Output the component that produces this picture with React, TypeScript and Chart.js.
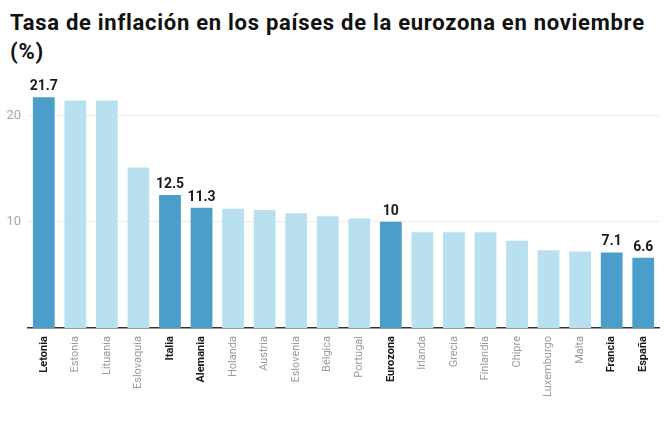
import React, { useEffect, useRef } from "react";
import { Chart, registerables } from "chart.js";

Chart.register(...registerables);

const categories = [
  "Letonia", "Estonia", "Lituania", "Eslovaquia", "Italia", "Alemania", "Holanda",
  "Austria", "Eslovenia", "Bélgica", "Portugal", "Eurozona", "Irlanda", "Grecia",
  "Finlandia", "Chipre", "Luxemburgo", "Malta", "Francia", "España",
];
const inflation = [
  21.7, 21.4, 21.4, 15.1, 12.5, 11.3, 11.2, 11.1, 10.8, 10.5, 10.3, 10.0, 9.0, 9.0,
  9.0, 8.2, 7.3, 7.2, 7.1, 6.6,
];
const highlighted = ["Letonia", "Italia", "Alemania", "Eurozona", "Francia", "España"];
const yTicks = [10, 20];

const DARK = "#4a9ec9";
const LIGHT = "#b8e0ee";

export default function App() {
  const ref = useRef<HTMLCanvasElement | null>(null);

  useEffect(() => {
    if (!ref.current) return;
    const isHi = (i: number) => highlighted.includes(categories[i]);

    const labelPlugin = {
      id: "valueLabels",
      afterDatasetsDraw(chart: any) {
        const ctx = chart.ctx;
        const meta = chart.getDatasetMeta(0);
        ctx.save();
        ctx.font = "bold 14px Roboto";
        ctx.fillStyle = "#1a1a1a";
        ctx.textAlign = "center";
        ctx.textBaseline = "alphabetic";
        meta.data.forEach((bar: any, i: number) => {
          if (!isHi(i)) return;
          const v = inflation[i];
          const txt = Number.isInteger(v) ? String(v) : v.toFixed(1);
          ctx.fillText(txt, bar.x, bar.y - 7);
        });
        ctx.restore();
      },
    };

    const chart = new Chart(ref.current, {
      type: "bar",
      data: {
        labels: categories,
        datasets: [
          {
            data: inflation,
            backgroundColor: categories.map((_, i) => (isHi(i) ? DARK : LIGHT)),
            borderWidth: 0,
            categoryPercentage: 1,
            barPercentage: 0.69,
          },
        ],
      },
      options: {
        animation: false,
        responsive: false,
        maintainAspectRatio: false,
        layout: { padding: { top: 94, right: 11, left: 0, bottom: 0 } },
        plugins: {
          legend: { display: false },
          title: { display: false },
          tooltip: { enabled: false },
        },
        scales: {
          x: {
            grid: { display: false, drawTicks: false },
            border: { display: true, color: "#333333", width: 1.5 },
            ticks: {
              autoSkip: false,
              minRotation: 90,
              maxRotation: 90,
              padding: 8,
              color: (c: any) => (isHi(c.index) ? "#1a1a1a" : "#9a9a9a"),
              font: (c: any) => ({
                family: "Roboto",
                size: 11,
                weight: isHi(c.index) ? "bold" : "normal",
              }),
            },
            afterFit: (s: any) => {
              s.height = 94;
            },
          },
          y: {
            min: 0,
            max: 22,
            grid: { color: "#ebebeb", lineWidth: 1, drawTicks: false },
            border: { display: false },
            ticks: {
              padding: 7,
              color: "#a8a8a8",
              font: { family: "Roboto", size: 13 },
            },
            afterBuildTicks: (s: any) => {
              s.ticks = yTicks.map((v) => ({ value: v }));
            },
            afterFit: (s: any) => {
              s.width = 28;
            },
          },
        },
      },
      plugins: [labelPlugin],
    });
    return () => chart.destroy();
  }, []);

  return (
    <div style={{ position: "fixed", left: 0, top: 0, width: 670, height: 422, background: "#fff" }}>
      <div
        style={{
          position: "absolute",
          left: 10,
          top: 8,
          width: 660,
          whiteSpace: "nowrap",
          fontFamily: "Roboto",
          fontWeight: 700,
          fontSize: 22,
          lineHeight: "29px",
          color: "#111",
          letterSpacing: "0.72px",
        }}
      >
        Tasa de inflación en los países de la eurozona en noviembre
        <br />
        (%)
      </div>
      <canvas ref={ref} width={670} height={422} style={{ position: "absolute", left: 0, top: 0 }} />
    </div>
  );
}
